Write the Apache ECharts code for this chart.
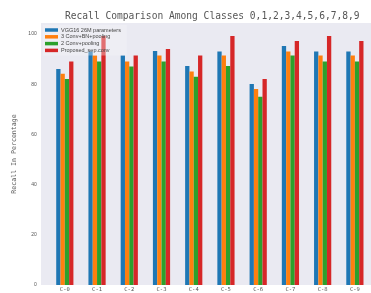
<!DOCTYPE html>
<html>
<head>
<meta charset="utf-8">
<script src="https://cdn.jsdelivr.net/npm/echarts@6/dist/echarts.min.js"></script>
<style>html,body{margin:0;padding:0;background:#fff}#c{width:371px;height:293px}</style>
</head>
<body>
<div id="c"></div>
<script>
const categories = ['C-0','C-1','C-2','C-3','C-4','C-5','C-6','C-7','C-8','C-9'];
const seriesNames = ['VGG16 26M parameters','3 Conv+BN+pooling','2 Conv+pooling','Proposed_sep.conv'];
const vgg16 = [86.1, 93.0, 91.4, 93.2, 87.3, 93.0, 80.1, 95.2, 93.0, 93.0];
const conv3bn = [84.2, 91.4, 89.1, 91.4, 85.1, 91.4, 78.1, 93.0, 91.4, 91.4];
const conv2 = [82.1, 89.1, 87.1, 89.1, 83.0, 87.3, 75.0, 91.4, 89.1, 89.1];
const proposed = [89.1, 99.2, 91.4, 94.0, 91.4, 99.2, 82.1, 97.2, 99.2, 97.2];
const yTicks = [0, 20, 40, 60, 80, 100];
const colors = ['#1f77b4','#ff7f0e','#2ca02c','#d62728'];
const values = [vgg16, conv3bn, conv2, proposed];

const chart = echarts.init(document.getElementById('c'));
const mono = 'DejaVu Sans Mono';
chart.setOption({
  animation: false,
  title: {
    text: 'Recall Comparison Among Classes 0,1,2,3,4,5,6,7,8,9',
    left: 60, top: 6,
    textStyle: {fontFamily: mono, fontSize: 9.6, fontWeight: 'normal', color: '#555'}
  },
  graphic: [{
    type: 'rect', z: -10, silent: true,
    shape: {x: 41, y: 23, width: 330, height: 262},
    style: {fill: '#eaeaf2'}
  }],
  legend: {
    orient: 'vertical', left: 43, top: 25,
    padding: [2, 6, 2, 2],
    backgroundColor: 'rgba(245,245,250,0.35)',
    itemWidth: 13, itemHeight: 3.5, itemGap: 0.8,
    icon: 'rect',
    textStyle: {fontSize: 5.5, color: '#444', lineHeight: 6, padding: [0,0,0,-2]},
    data: seriesNames
  },
  grid: {left: 48.7, right: -3.7, top: 23, bottom: 8, containLabel: false},
  xAxis: {
    type: 'category', data: categories,
    axisLine: {show: false}, axisTick: {show: false},
    axisLabel: {fontFamily: mono, fontSize: 5.5, color: '#555', margin: 2}
  },
  yAxis: {
    type: 'value', min: 0, max: 104.4, interval: 20,
    name: 'Recall In Percentage', nameLocation: 'middle', nameGap: 29,
    nameTextStyle: {fontFamily: mono, fontSize: 6.6, color: '#555'},
    axisLine: {show: false}, axisTick: {show: false},
    splitLine: {show: false},
    axisLabel: {showMaxLabel: false, fontSize: 5, color: '#555', margin: 12,
      formatter: v => yTicks.includes(v) ? String(v) : ''}
  },
  series: values.map((d, i) => ({
    name: seriesNames[i], type: 'bar', data: d,
    barWidth: 4.3, barGap: '0%',
    itemStyle: {color: colors[i]}
  }))
});
</script>
</body>
</html>
